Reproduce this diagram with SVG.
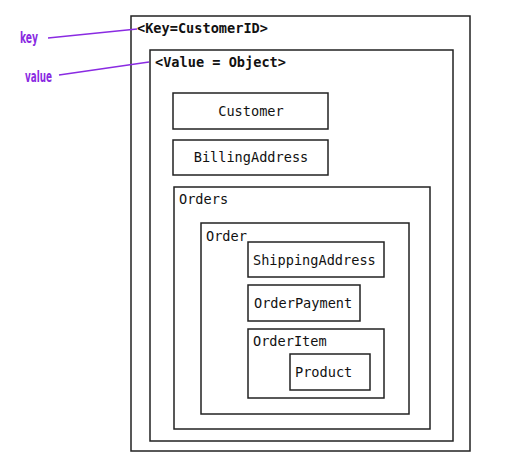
<svg xmlns="http://www.w3.org/2000/svg" width="515" height="458" viewBox="0 0 515 458">
<style>
.box{fill:none;stroke:#222;stroke-width:1.5}
.t{font-family:"DejaVu Sans Mono","Liberation Mono",monospace;font-size:13.6px;fill:#111}
.b{font-weight:bold}
.c{text-anchor:middle}
.lbl{font-family:"DejaVu Sans Condensed","Liberation Sans Narrow",sans-serif;font-size:15px;fill:#8a2be2;font-weight:bold}
.ln{stroke:#8a2be2;stroke-width:1.5;fill:none}
</style>
<rect width="515" height="458" fill="#fff"/>
<g id="key-node"><rect class="box" x="131" y="16" width="339" height="435"/><text class="t b" x="137" y="33">&lt;Key=CustomerID&gt;</text></g>
<g id="value-node"><rect class="box" x="150" y="50" width="303" height="391"/><text class="t b" x="155" y="67">&lt;Value = Object&gt;</text></g>
<g id="customer"><rect class="box" x="173" y="93" width="155" height="36"/><text class="t c" x="251" y="116">Customer</text></g>
<g id="billing"><rect class="box" x="173" y="140" width="155" height="35"/><text class="t c" x="251" y="162">BillingAddress</text></g>
<g id="orders"><rect class="box" x="174" y="187" width="256" height="242"/><text class="t" x="179" y="204">Orders</text></g>
<g id="order"><rect class="box" x="201" y="223" width="208" height="191"/><text class="t" x="206" y="241">Order</text></g>
<g id="shipping"><rect class="box" x="248" y="242" width="136" height="35"/><text class="t" x="253" y="265">ShippingAddress</text></g>
<g id="payment"><rect class="box" x="248" y="285" width="112" height="36"/><text class="t" x="254" y="308">OrderPayment</text></g>
<g id="orderitem"><rect class="box" x="248" y="329" width="136" height="69"/><text class="t" x="253" y="346">OrderItem</text></g>
<g id="product"><rect class="box" x="290" y="354" width="80" height="36"/><text class="t" x="295" y="377">Product</text></g>
<g id="annotations">
<text class="lbl" x="20" y="43" textLength="18" lengthAdjust="spacingAndGlyphs">key</text>
<text class="lbl" x="25" y="82" textLength="27" lengthAdjust="spacingAndGlyphs">value</text>
</g>
<g id="connectors">
<path class="ln" d="M48 38 L137 29"/>
<path class="ln" d="M59 75 L149 62"/>
</g>
</svg>
